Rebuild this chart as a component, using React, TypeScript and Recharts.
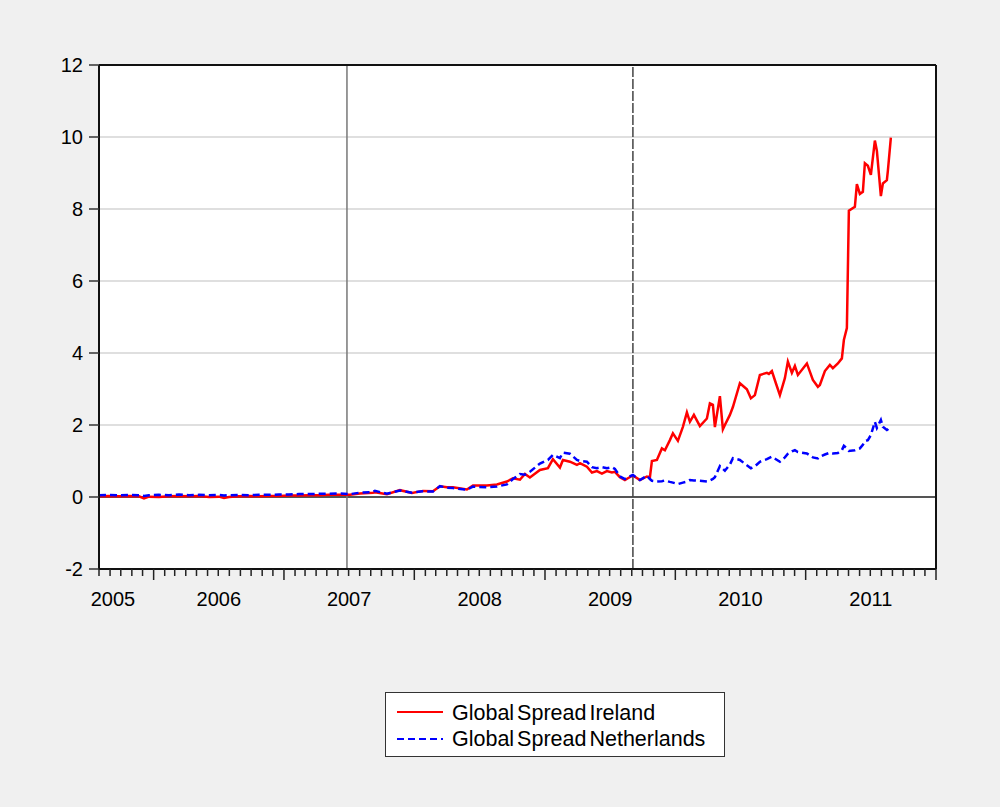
import { LineChart, Line, XAxis, YAxis, CartesianGrid, ReferenceLine } from 'recharts';

// x = weeks since 1 Aug 2005 (weekly spreads)
const weeks = [
  0, 4, 8, 12, 16, 18, 20, 24, 28, 32, 36, 40, 44, 48, 50, 52, 56, 60, 64, 68, 72, 76, 80, 84, 88, 92, 96,
  100.4, 104.4, 109.6, 110.4, 115.2, 120.4, 125.2, 129.6, 133.6, 136.4, 139.2, 141.6, 147.2, 149.6,
  155.2, 159.2, 163.2, 165.6, 168.4, 170.4, 172.4, 176.4, 179.6, 181.6, 184.4, 185.6, 188.4, 191.2,
  192.4, 195.2, 197.2, 199.2, 201.2, 203.2, 205.2, 206.4, 208.4, 210.4, 211.6, 213.6, 216.4, 219.2,
  220.4, 221.2, 223.2, 225.2, 226.4, 228.4, 229.6, 231.6, 233.6, 235.2, 236.4, 238.0, 240.4, 243.2,
  244.4, 245.6, 246.4, 248.4, 249.6, 250.4, 252.4, 253.6, 256.4, 259.2, 260.8, 262.4, 264.4, 267.2,
  268.0, 269.2, 270.8, 272.4, 274.4, 275.6, 277.2, 278.4, 279.6, 283.2, 285.6, 287.6, 288.4, 290.4,
  292.4, 293.6, 295.6, 297.2, 298.0, 299.2, 300.0, 302.4, 303.2, 304.4, 305.6, 306.4, 307.6, 308.8,
  310.4, 311.2, 312.8, 313.6, 315.2, 315.6, 316.8,
];

const ireland = [
  0.02, 0.03, 0.02, 0.03, 0.02, -0.04, 0.01, 0.0, 0.02, 0.03, 0.02, 0.03, 0.0, 0.01, -0.03, 0.0, 0.02, 0.03, 0.02, 0.03, 0.03, 0.04, 0.04, 0.05, 0.05, 0.06, 0.06,
  0.06, 0.1, 0.12, 0.13, 0.08, 0.19, 0.11, 0.17, 0.16, 0.3, 0.27, 0.27, 0.21, 0.32,
  0.32, 0.35, 0.43, 0.52, 0.48, 0.64, 0.54, 0.75, 0.8, 1.05, 0.82, 1.03, 0.98, 0.89,
  0.94, 0.84, 0.68, 0.72, 0.65, 0.72, 0.68, 0.7, 0.55, 0.47, 0.52, 0.6, 0.47, 0.57,
  0.55, 1.0, 1.03, 1.35, 1.3, 1.58, 1.77, 1.56, 1.95, 2.35, 2.09, 2.28, 1.97, 2.18,
  2.6, 2.56, 1.94, 2.8, 1.88, 2.0, 2.28, 2.5, 3.16, 2.99, 2.74, 2.83, 3.39, 3.45,
  3.42, 3.5, 3.16, 2.83, 3.3, 3.76, 3.45, 3.64, 3.39, 3.71, 3.25, 3.06, 3.11, 3.5,
  3.67, 3.58, 3.71, 3.85, 4.36, 4.69, 7.95, 8.06, 8.69, 8.42, 8.48, 9.27, 9.2, 8.95,
  9.9, 9.62, 8.36, 8.71, 8.8, 9.06, 9.98,
];

const netherlands = [
  0.05, 0.06, 0.05, 0.06, 0.05, 0.03, 0.05, 0.06, 0.05, 0.07, 0.05, 0.06, 0.05, 0.06, 0.04, 0.05, 0.06, 0.05, 0.06, 0.06, 0.07, 0.07, 0.08, 0.08, 0.09, 0.09, 0.1,
  0.08, 0.12, 0.14, 0.17, 0.09, 0.18, 0.12, 0.16, 0.15, 0.3, 0.26, 0.25, 0.2, 0.29,
  0.27, 0.29, 0.35, 0.5, 0.64, 0.62, 0.7, 0.93, 1.03, 1.17, 1.08, 1.23, 1.2, 1.03,
  1.0, 0.98, 0.83, 0.8, 0.83, 0.8, 0.83, 0.78, 0.57, 0.5, 0.55, 0.61, 0.47, 0.59,
  0.5, 0.45, 0.43, 0.44, 0.46, 0.42, 0.4, 0.36, 0.4, 0.43, 0.47, 0.46, 0.45, 0.43,
  0.46, 0.5, 0.55, 0.86, 0.78, 0.73, 0.9, 1.08, 1.03, 0.88, 0.8, 0.85, 0.98, 1.05,
  1.08, 1.12, 1.05, 0.98, 1.1, 1.2, 1.27, 1.3, 1.25, 1.21, 1.1, 1.07, 1.12, 1.18,
  1.23, 1.21, 1.22, 1.3, 1.42, 1.35, 1.28, 1.3, 1.32, 1.35, 1.45, 1.55, 1.58, 1.72,
  2.09, 1.92, 2.14, 1.95, 1.86, 1.88, 1.97,
];

const yTicks = [-2, 0, 2, 4, 6, 8, 10, 12];
const years = [2005, 2006, 2007, 2008, 2009, 2010, 2011];
const eventWeeks = [99.2, 213.6];

const START = Date.UTC(2005, 7, 1);
const toWeek = (y: number, m: number) => (Date.UTC(y, m, 1) - START) / (7 * 864e5);

const monthTicks: number[] = [];
for (let y = 2005; y <= 2012; y++) {
  for (let m = 0; m < 12; m++) {
    const w = toWeek(y, m);
    if (w >= 0 && w <= toWeek(2012, 0) + 0.01) monthTicks.push(w);
  }
}
const X_MAX = toWeek(2012, 0);
const yearLabelAt = new Map<number, string>();
years.forEach((yr) => {
  const w = yr === 2005 ? 5.6 : (toWeek(yr, 0) + toWeek(yr + 1, 0)) / 2;
  yearLabelAt.set(Math.round(w * 1000) / 1000, String(yr));
});
const labelTicks = [...yearLabelAt.keys()];
const majorTicks = new Set(years.concat([2012]).map((yr) => Math.round(toWeek(yr, 0) * 1000) / 1000));

const data = weeks.map((w, i) => ({ week: w, ireland: ireland[i], netherlands: netherlands[i] }));

const FONT = '"Liberation Sans", Arial, sans-serif';

function XTick(props: any) {
  const { x, y, payload } = props;
  const key = Math.round(payload.value * 1000) / 1000;
  const label = yearLabelAt.get(key);
  if (label) {
    return (
      <text x={x} y={y + 37} textAnchor="middle" fontSize={20} fontFamily={FONT} fill="#000">
        {label}
      </text>
    );
  }
  const len = majorTicks.has(key) ? 11 : 7;
  return <line x1={x} x2={x} y1={y} y2={y + len} stroke="#222" strokeWidth={1.5} />;
}

function Legend() {
  return (
    <div
      style={{
        position: 'absolute',
        left: 385,
        top: 692,
        width: 338,
        height: 63,
        background: '#fff',
        border: '1px solid #333',
      }}
    >
      <svg width={338} height={63} style={{ position: 'absolute', left: 0, top: 0 }}>
        <line x1={11} x2={57} y1={19} y2={19} stroke="#ff0000" strokeWidth={2} />
        <line x1={11} x2={57} y1={46} y2={46} stroke="#0000ff" strokeWidth={2} strokeDasharray="7 4" />
        <text x={66} y={27} fontSize={21.5} fontFamily={FONT} wordSpacing={-3}>
          Global Spread Ireland
        </text>
        <text x={66} y={53} fontSize={21.5} fontFamily={FONT} wordSpacing={-3}>
          Global Spread Netherlands
        </text>
      </svg>
    </div>
  );
}

export default function App() {
  return (
    <div style={{ position: 'absolute', left: 0, top: 0, width: 1000, height: 807, background: '#f0f0f0' }}>
      <LineChart width={1000} height={807} data={data} margin={{ top: 65, right: 64, left: 39, bottom: 188 }}>
        <CartesianGrid horizontal vertical={false} stroke="#d4d4d4" strokeWidth={1.5} fill="#fff" />
        <XAxis
          dataKey="week"
          type="number"
          domain={[0, X_MAX]}
          ticks={[...monthTicks, ...labelTicks]}
          interval={0}
          height={50}
          tickSize={0}
          tickMargin={0}
          tickLine={false}
          axisLine={{ stroke: '#111', strokeWidth: 2 }}
          tick={<XTick />}
          allowDataOverflow
        />
        <YAxis
          type="number"
          domain={[-2, 12]}
          ticks={yTicks}
          interval={0}
          width={60}
          tickSize={10}
          tickMargin={6}
          tickLine={{ stroke: '#333', strokeWidth: 1.5 }}
          axisLine={{ stroke: '#111', strokeWidth: 2 }}
          tick={{ fill: '#000', fontSize: 20, fontFamily: FONT }}
        />
        <ReferenceLine y={0} stroke="#555" strokeWidth={2} />
        {eventWeeks.map((w, i) => (
          <ReferenceLine
            key={w}
            x={w}
            stroke={i === 0 ? '#777' : '#444'}
            strokeWidth={1.5}
            strokeDasharray={i === 0 ? undefined : '10 2'}
          />
        ))}
        <ReferenceLine y={12} stroke="#111" strokeWidth={2} />
        <ReferenceLine x={X_MAX} stroke="#111" strokeWidth={2} />
        <Line
          type="linear"
          dataKey="ireland"
          stroke="#ff0000"
          strokeWidth={2.5}
          dot={false}
          isAnimationActive={false}
        />
        <Line
          type="linear"
          dataKey="netherlands"
          stroke="#0000ff"
          strokeWidth={2.5}
          strokeDasharray="7 4"
          dot={false}
          isAnimationActive={false}
        />
      </LineChart>
      <Legend />
    </div>
  );
}
